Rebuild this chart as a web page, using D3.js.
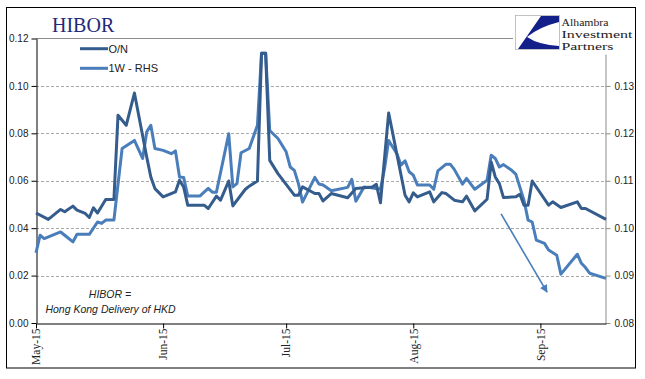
<!DOCTYPE html>
<html><head><meta charset="utf-8">
<script src="https://cdn.jsdelivr.net/npm/d3@7"></script>
<style>body{margin:0;background:#fff}svg{display:block}</style>
</head><body>
<svg id="c" width="645" height="379"></svg>
<script>
// ---- data ----
const onDates = ["2015-05-01","2015-05-04","2015-05-07","2015-05-08","2015-05-10","2015-05-11","2015-05-13","2015-05-14","2015-05-15","2015-05-16","2015-05-18","2015-05-20","2015-05-21","2015-05-23","2015-05-25","2015-05-28","2015-05-29","2015-05-30","2015-06-01","2015-06-04","2015-06-05","2015-06-06","2015-06-07","2015-06-11","2015-06-12","2015-06-14","2015-06-15","2015-06-17","2015-06-18","2015-06-21","2015-06-22","2015-06-24","2015-06-25","2015-06-26","2015-06-27","2015-06-29","2015-07-03","2015-07-04","2015-07-05","2015-07-08","2015-07-09","2015-07-10","2015-07-12","2015-07-16","2015-07-18","2015-07-22","2015-07-23","2015-07-24","2015-07-26","2015-07-30","2015-07-31","2015-08-01","2015-08-02","2015-08-05","2015-08-06","2015-08-08","2015-08-09","2015-08-11","2015-08-13","2015-08-14","2015-08-15","2015-08-16","2015-08-19","2015-08-20","2015-08-21","2015-08-22","2015-08-23","2015-08-26","2015-08-27","2015-08-28","2015-08-29","2015-08-30","2015-09-03","2015-09-04","2015-09-06","2015-09-10","2015-09-11","2015-09-12","2015-09-17"];
const onValues = [0.0464,0.0437,0.0479,0.0469,0.0493,0.0476,0.0462,0.0445,0.0486,0.0464,0.0521,0.0521,0.0876,0.0834,0.0970,0.0700,0.0616,0.0567,0.0532,0.0553,0.0602,0.0574,0.0497,0.0497,0.0483,0.0535,0.0518,0.0599,0.0494,0.0563,0.0577,0.0599,0.1138,0.1138,0.0686,0.0630,0.0539,0.0539,0.0574,0.0546,0.0546,0.0515,0.0546,0.0528,0.0567,0.0574,0.0585,0.0507,0.0886,0.0539,0.0511,0.0549,0.0532,0.0553,0.0511,0.0550,0.0546,0.0518,0.0511,0.0535,0.0504,0.0473,0.0522,0.0679,0.0616,0.0588,0.0529,0.0532,0.0543,0.0497,0.0497,0.0599,0.0497,0.0511,0.0487,0.0511,0.0483,0.0483,0.0437];

const wDates = ["2015-05-01","2015-05-02","2015-05-03","2015-05-07","2015-05-08","2015-05-10","2015-05-11","2015-05-14","2015-05-16","2015-05-17","2015-05-18","2015-05-20","2015-05-22","2015-05-25","2015-05-27","2015-05-28","2015-05-29","2015-05-30","2015-06-01","2015-06-03","2015-06-04","2015-06-05","2015-06-06","2015-06-07","2015-06-10","2015-06-12","2015-06-13","2015-06-14","2015-06-17","2015-06-18","2015-06-19","2015-06-20","2015-06-22","2015-06-24","2015-06-25","2015-06-26","2015-06-27","2015-06-29","2015-07-01","2015-07-02","2015-07-03","2015-07-04","2015-07-05","2015-07-08","2015-07-09","2015-07-10","2015-07-12","2015-07-16","2015-07-17","2015-07-18","2015-07-20","2015-07-21","2015-07-24","2015-07-25","2015-07-26","2015-07-28","2015-07-29","2015-07-30","2015-07-31","2015-08-01","2015-08-02","2015-08-05","2015-08-06","2015-08-07","2015-08-09","2015-08-10","2015-08-11","2015-08-13","2015-08-14","2015-08-16","2015-08-19","2015-08-20","2015-08-21","2015-08-22","2015-08-23","2015-08-25","2015-08-26","2015-08-28","2015-08-29","2015-08-30","2015-08-31","2015-09-02","2015-09-03","2015-09-05","2015-09-06","2015-09-10","2015-09-11","2015-09-12","2015-09-13","2015-09-17"];
const wValues = [0.0948,0.0985,0.0978,0.0992,0.0985,0.0971,0.0987,0.0987,0.1013,0.1010,0.1017,0.1017,0.1168,0.1185,0.1147,0.1203,0.1217,0.1168,0.1164,0.1157,0.1163,0.1108,0.1107,0.1068,0.1068,0.1084,0.1076,0.1076,0.1199,0.1087,0.1094,0.1159,0.1168,0.1217,0.1369,0.1369,0.1206,0.1189,0.1161,0.1129,0.1122,0.1094,0.1055,0.1107,0.1093,0.1091,0.1079,0.1086,0.1103,0.1057,0.1087,0.1086,0.1082,0.1126,0.1185,0.1157,0.1133,0.1142,0.1119,0.1112,0.1091,0.1091,0.1082,0.1121,0.1135,0.1135,0.1124,0.1093,0.1105,0.1082,0.1101,0.1154,0.1147,0.1129,0.1134,0.1122,0.1114,0.1059,0.1017,0.1013,0.0975,0.0968,0.0954,0.0943,0.0903,0.0945,0.0926,0.0917,0.0905,0.0894];

const leftTicks = [0, 0.02, 0.04, 0.06, 0.08, 0.10, 0.12];
const rightTicks = [0.08, 0.09, 0.10, 0.11, 0.12, 0.13];
const monthTicks = ["2015-05-01","2015-06-01","2015-07-01","2015-08-01","2015-09-01"];
const seriesNames = ["O/N", "1W - RHS"];
const arrowStart = ["2015-08-22T10:00", 0.046];
const arrowEnd = ["2015-09-02T15:00", 0.013];

// ---- chart ----
const parse = d3.timeParse("%Y-%m-%d");
const parseT = d3.timeParse("%Y-%m-%dT%H:%M");
const svg = d3.select("#c");
const C_ON = "#345c8c", C_W = "#4a7ebb";

svg.append("rect").attr("x",6.5).attr("y",7.5).attr("width",629).attr("height",360.5)
  .attr("fill","#fff").attr("stroke","#000").attr("stroke-width",1);

const x = d3.scaleTime().domain([parse("2015-05-01"), parse("2015-09-17")]).range([36, 606]);
const yL = d3.scaleLinear().domain([0, 0.12]).range([323, 38.5]);
const yR = d3.scaleLinear().domain([0.08, 0.14]).range([323, 38.5]);

// gridlines
svg.append("g").selectAll("line").data(leftTicks.filter(v => v > 0 && v < 0.12)).join("line")
  .attr("x1",36).attr("x2",606).attr("y1",d=>Math.round(yL(d))+0.5).attr("y2",d=>Math.round(yL(d))+0.5)
  .attr("stroke","#a8a8a8").attr("stroke-dasharray","3,2").attr("stroke-width",1);
// top border line
svg.append("line").attr("x1",36).attr("x2",606).attr("y1",38.5).attr("y2",38.5).attr("stroke","#8c8c8c");

const fmt = d3.format(".2f");
// left axis
const gL = svg.append("g").attr("transform","translate(36.5,0)")
  .call(d3.axisLeft(yL).tickValues(leftTicks).tickFormat(fmt).tickSize(5).tickSizeOuter(0));
gL.select(".domain").attr("stroke","#000");
gL.selectAll(".tick line").attr("stroke","#000");
gL.selectAll("text").attr("font-family","Liberation Sans, Arial, sans-serif").attr("font-size",10).attr("fill","#222").attr("x",-8);

// right axis
const gR = svg.append("g").attr("transform","translate(605.5,0)")
  .call(d3.axisRight(yR).tickValues(rightTicks).tickFormat(fmt).tickSize(5).tickSizeOuter(0));
gR.select(".domain").attr("stroke","#8c8c8c");
gR.selectAll(".tick line").attr("stroke","#8c8c8c");
gR.selectAll("text").attr("font-family","Liberation Sans, Arial, sans-serif").attr("font-size",10).attr("fill","#222").attr("x",9);

// bottom axis
const gB = svg.append("g").attr("transform","translate(0,323.5)")
  .call(d3.axisBottom(x).tickValues(monthTicks.map(parse)).tickFormat(d3.timeFormat("%b-%y")).tickSize(5).tickSizeOuter(0));
gB.select(".domain").attr("stroke","#000");
gB.selectAll(".tick line").attr("stroke","#000");
gB.selectAll("text").attr("font-family","Liberation Serif, Times New Roman, serif").attr("font-size",11.5).attr("fill","#222")
  .attr("transform","rotate(-90)").attr("text-anchor","end").attr("x",-5).attr("y",0).attr("dy","0.33em");

// lines
const onData = onDates.map((d,i)=>({d:parse(d), v:onValues[i]}));
const wData = wDates.map((d,i)=>({d:parse(d), v:wValues[i]}));
svg.append("path").datum(wData).attr("fill","none").attr("stroke",C_W).attr("stroke-width",3)
  .attr("stroke-linejoin","round").attr("d", d3.line().x(p=>x(p.d)).y(p=>yR(p.v)));
svg.append("path").datum(onData).attr("fill","none").attr("stroke",C_ON).attr("stroke-width",3)
  .attr("stroke-linejoin","round").attr("d", d3.line().x(p=>x(p.d)).y(p=>yL(p.v)));

// arrow
svg.append("defs").append("marker").attr("id","ah").attr("viewBox","0 0 10 10").attr("refX",9).attr("refY",5)
  .attr("markerWidth",5).attr("markerHeight",5).attr("orient","auto")
  .append("path").attr("d","M0,0 L10,5 L0,10 Z").attr("fill",C_W);
svg.append("line").attr("x1",x(parseT(arrowStart[0]))).attr("y1",yL(arrowStart[1]))
  .attr("x2",x(parseT(arrowEnd[0]))).attr("y2",yL(arrowEnd[1]))
  .attr("stroke",C_W).attr("stroke-width",1.6).attr("marker-end","url(#ah)");

// title
svg.append("text").attr("x",52).attr("y",31.5).attr("font-family","Liberation Serif, Times New Roman, serif")
  .attr("font-size",20).attr("fill","#1f2a78").text("HIBOR");

// legend
const leg = svg.append("g");
seriesNames.forEach((n,i)=>{
  const yy = 48.7 + i*19.6;
  leg.append("line").attr("x1",80).attr("x2",108).attr("y1",yy).attr("y2",yy)
    .attr("stroke", i===0?C_ON:C_W).attr("stroke-width",3);
  leg.append("text").attr("x",108.5).attr("y",yy+4).attr("font-family","Liberation Sans, Arial, sans-serif")
    .attr("font-size",11).attr("fill","#222").text(n);
});

// annotation
const ann = svg.append("g").attr("font-family","Liberation Sans, Arial, sans-serif").attr("font-style","italic")
  .attr("font-size",10.5).attr("fill","#222").attr("text-anchor","middle");
ann.append("text").attr("x",110).attr("y",298).text("HIBOR =");
ann.append("text").attr("x",110.5).attr("y",313).text("Hong Kong Delivery of HKD");

// logo
const lg = svg.append("g");
lg.append("rect").attr("x",513).attr("y",8).attr("width",122).attr("height",46.5).attr("fill","#fff");
lg.append("rect").attr("x",515.5).attr("y",15.5).attr("width",44).attr("height",34).attr("fill","#fff").attr("stroke","#aaa").attr("stroke-width",0.7);
lg.append("path").attr("d","M541,16 L559,16 L559,22 Q539,27 527,37 Q539,45 559,46 L559,49 L518,49 Z").attr("fill","#14208a");
const lt = lg.append("g").attr("font-family","Liberation Serif, Times New Roman, serif").attr("font-size",10.5).attr("fill","#222");
lt.append("text").attr("x",561.5).attr("y",26).attr("textLength",47).attr("lengthAdjust","spacingAndGlyphs").text("Alhambra");
lt.append("text").attr("x",561.5).attr("y",38).attr("textLength",71).attr("lengthAdjust","spacingAndGlyphs").text("Investment");
lt.append("text").attr("x",561.5).attr("y",50).attr("textLength",52).attr("lengthAdjust","spacingAndGlyphs").text("Partners");
</script>
</body></html>
